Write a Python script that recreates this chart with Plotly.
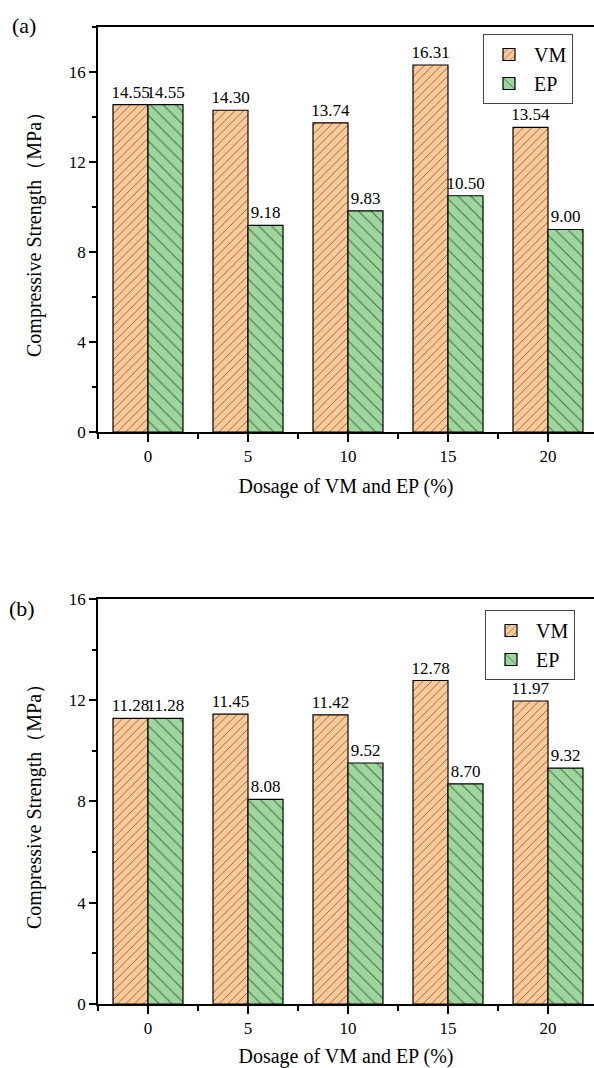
import plotly.graph_objects as go

dosage_labels = ["0", "5", "10", "15", "20"]
vm_a = [14.55, 14.30, 13.74, 16.31, 13.54]
ep_a = [14.55, 9.18, 9.83, 10.50, 9.00]
vm_b = [11.28, 11.45, 11.42, 12.78, 11.97]
ep_b = [11.28, 8.08, 9.52, 8.70, 9.32]

xpos = list(range(len(dosage_labels)))

VM_COLOR = "#FDC996"
EP_COLOR = "#9ED79E"
FONT = "Liberation Serif"

fig = go.Figure()


def add_pair(vm, ep, xa, ya, legend):
    fig.add_trace(go.Bar(
        x=xpos, y=vm, name="VM", xaxis=xa, yaxis=ya, legend=legend,
        marker=dict(color=VM_COLOR, line=dict(color="black", width=1.2),
                    pattern=dict(shape="/", fgcolor="black", bgcolor=VM_COLOR,
                                 size=6, solidity=0.15, fillmode="overlay")),
        text=[f"{v:.2f}" for v in vm], textposition="outside",
        textfont=dict(family=FONT, size=17, color="black"),
        constraintext="none", cliponaxis=False,
    ))
    fig.add_trace(go.Bar(
        x=xpos, y=ep, name="EP", xaxis=xa, yaxis=ya, legend=legend,
        marker=dict(color=EP_COLOR, line=dict(color="black", width=1.2),
                    pattern=dict(shape="\\", fgcolor="black", bgcolor=EP_COLOR,
                                 size=9, solidity=0.12, fillmode="overlay")),
        text=[f"{v:.2f}" for v in ep], textposition="outside",
        textfont=dict(family=FONT, size=17, color="black"),
        constraintext="none", cliponaxis=False,
    ))


add_pair(vm_a, ep_a, "x", "y", "legend")
add_pair(vm_b, ep_b, "x2", "y2", "legend2")

x0 = 98 / 594
xcommon = dict(
    range=[-0.5, 4.46], tickmode="array", tickvals=xpos, ticktext=dosage_labels,
    ticks="outside", ticklen=8, tickwidth=1.5, tickcolor="black",
    minor=dict(ticks="outside", tick0=-0.5, dtick=1, ticklen=5, tickwidth=1.5, tickcolor="black"),
    showline=True, linecolor="black", linewidth=2, mirror=True,
    showgrid=False, zeroline=False, automargin=False,
    tickfont=dict(family=FONT, size=17, color="black"),
    title=dict(text="Dosage of VM and EP (%)", font=dict(family=FONT, size=20, color="black"), standoff=14),
    domain=[x0, 1.0],
)
ycommon = dict(
    ticks="outside", ticklen=7, tickwidth=1.5, tickcolor="black", dtick=4, tick0=0,
    minor=dict(ticks="outside", dtick=2, tick0=0, ticklen=4, tickwidth=1.5, tickcolor="black"),
    showline=True, linecolor="black", linewidth=1.5,
    showgrid=False, zeroline=False, automargin=False,
    tickfont=dict(family=FONT, size=17, color="black"),
    title=dict(text="Compressive Strength（MPa）", font=dict(family=FONT, size=20, color="black"), standoff=22),
)

legend_common = dict(
    xanchor="left", yanchor="top", bordercolor="#444", borderwidth=1, bgcolor="white",
    font=dict(family=FONT, size=20, color="black"), tracegroupgap=0, itemwidth=40,
)

fig.update_layout(
    width=594, height=1068,
    margin=dict(l=0, r=0, t=0, b=0),
    paper_bgcolor="white", plot_bgcolor="white",
    barmode="group", bargap=0.3, bargroupgap=0,
    font=dict(family=FONT, color="black"),
    xaxis=dict(**xcommon, anchor="y"),
    yaxis=dict(**ycommon, range=[0, 18], domain=[0.59551, 0.97472], anchor="x"),
    xaxis2=dict(**xcommon, anchor="y2"),
    yaxis2=dict(**ycommon, range=[0, 16], domain=[0.05993, 0.43914], anchor="x2"),
    legend=dict(x=483 / 594, y=1 - 34 / 1068, **legend_common),
    legend2=dict(x=485 / 594, y=1 - 610 / 1068, **legend_common),
    annotations=[
        dict(text="(a)", x=10 / 594, y=1 - 25 / 1068, xref="paper", yref="paper",
             xanchor="left", yanchor="middle", showarrow=False,
             font=dict(family=FONT, size=22, color="black")),
        dict(text="(b)", x=7 / 594, y=1 - 608 / 1068, xref="paper", yref="paper",
             xanchor="left", yanchor="middle", showarrow=False,
             font=dict(family=FONT, size=22, color="black")),
    ],
)

fig.write_html("out.html")
